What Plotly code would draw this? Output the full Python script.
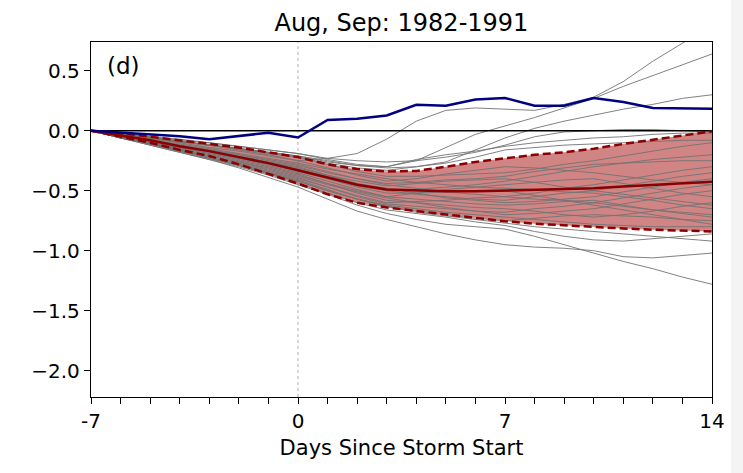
import plotly.graph_objects as go

days = list(range(-7, 15))
x_tick_vals = [-7, 0, 7, 14]
x_tick_text = ["-7", "0", "7", "14"]
y_tick_vals = [0.5, 0.0, -0.5, -1.0, -1.5, -2.0]

# observed (blue)
observed = [0.0, -0.015, -0.03, -0.045, -0.07, -0.045, -0.017, -0.056, 0.09, 0.10, 0.128,
            0.217, 0.208, 0.26, 0.273, 0.208, 0.208, 0.273, 0.24, 0.19, 0.19, 0.184]

# ensemble mean and +/- spread (dark red)
ens_mean = [0.0, -0.04, -0.08, -0.13, -0.17, -0.22, -0.27, -0.33, -0.39, -0.45, -0.49,
            -0.50, -0.505, -0.505, -0.50, -0.495, -0.49, -0.48, -0.465, -0.45, -0.435, -0.425]
ens_upper = [0.0, -0.02, -0.05, -0.08, -0.11, -0.14, -0.18, -0.22, -0.28, -0.32, -0.34,
             -0.335, -0.30, -0.26, -0.23, -0.20, -0.18, -0.15, -0.11, -0.075, -0.04, -0.005]
ens_lower = [0.0, -0.05, -0.10, -0.16, -0.21, -0.28, -0.36, -0.44, -0.53, -0.60, -0.64,
             -0.67, -0.70, -0.73, -0.755, -0.775, -0.79, -0.805, -0.815, -0.825, -0.835, -0.84]

# individual members (gray)
mem_a = [0, -0.03, -0.06, -0.09, -0.12, -0.16, -0.20, -0.25, -0.23, -0.19, -0.07, 0.08, 0.17, 0.19, 0.18, 0.17, 0.22, 0.28, 0.41, 0.58, 0.73, 0.88]
mem_b = [0, -0.03, -0.06, -0.09, -0.12, -0.15, -0.18, -0.21, -0.26, -0.29, -0.30, -0.25, -0.14, -0.03, 0.04, 0.11, 0.19, 0.27, 0.37, 0.46, 0.55, 0.64]
mem_c = [0, -0.03, -0.06, -0.09, -0.12, -0.15, -0.19, -0.22, -0.27, -0.31, -0.33, -0.30, -0.26, -0.16, -0.06, 0.02, 0.08, 0.13, 0.18, 0.22, 0.27, 0.30]
mem_d = [0, -0.02, -0.05, -0.08, -0.10, -0.13, -0.16, -0.19, -0.23, -0.25, -0.26, -0.25, -0.22, -0.18, -0.12, -0.05, -0.01, 0.00, 0.01, 0.01, 0.00, -0.01]
mem_e = [0, -0.02, -0.05, -0.07, -0.10, -0.13, -0.16, -0.19, -0.24, -0.28, -0.30, -0.24, -0.20, -0.17, -0.13, -0.10, -0.08, -0.06, -0.05, -0.03, -0.02, -0.02]
mem_f = [0, -0.03, -0.06, -0.09, -0.12, -0.15, -0.18, -0.21, -0.25, -0.29, -0.31, -0.30, -0.27, -0.22, -0.16, -0.14, -0.12, -0.11, -0.10, -0.09, -0.08, -0.08]
mem_l1 = [0, -0.06, -0.12, -0.18, -0.24, -0.31, -0.39, -0.47, -0.57, -0.67, -0.74, -0.80, -0.86, -0.91, -0.95, -0.97, -0.98, -1.00, -1.05, -1.06, -1.04, -1.02]
mem_l2 = [0, -0.06, -0.12, -0.18, -0.24, -0.30, -0.37, -0.45, -0.53, -0.62, -0.69, -0.74, -0.78, -0.80, -0.82, -0.88, -0.95, -1.02, -1.09, -1.15, -1.22, -1.28]
mem_l3 = [0, -0.06, -0.11, -0.17, -0.23, -0.29, -0.36, -0.44, -0.52, -0.60, -0.66, -0.69, -0.72, -0.76, -0.79, -0.84, -0.88, -0.91, -0.92, -0.90, -0.88, -0.86]
mem_l4 = [0, -0.05, -0.11, -0.16, -0.22, -0.28, -0.35, -0.42, -0.50, -0.57, -0.63, -0.68, -0.71, -0.74, -0.77, -0.80, -0.82, -0.84, -0.86, -0.88, -0.90, -0.92]
mem_01 = [0, -0.03, -0.06, -0.09, -0.12, -0.15, -0.18, -0.22, -0.28, -0.34, -0.38, -0.38, -0.37, -0.36, -0.35, -0.32, -0.28, -0.25, -0.21, -0.17, -0.13, -0.10]
mem_02 = [0, -0.03, -0.07, -0.10, -0.14, -0.17, -0.21, -0.25, -0.31, -0.37, -0.42, -0.40, -0.36, -0.33, -0.30, -0.31, -0.33, -0.35, -0.38, -0.41, -0.43, -0.45]
mem_03 = [0, -0.04, -0.08, -0.12, -0.16, -0.20, -0.24, -0.28, -0.34, -0.40, -0.45, -0.48, -0.51, -0.53, -0.55, -0.57, -0.58, -0.60, -0.63, -0.66, -0.68, -0.70]
mem_04 = [0, -0.04, -0.08, -0.12, -0.17, -0.21, -0.26, -0.30, -0.37, -0.44, -0.50, -0.49, -0.47, -0.45, -0.42, -0.38, -0.34, -0.30, -0.27, -0.24, -0.22, -0.20]
mem_05 = [0, -0.04, -0.09, -0.13, -0.18, -0.22, -0.27, -0.32, -0.38, -0.44, -0.48, -0.52, -0.56, -0.58, -0.60, -0.59, -0.57, -0.55, -0.51, -0.47, -0.43, -0.40]
mem_06 = [0, -0.05, -0.09, -0.14, -0.18, -0.23, -0.28, -0.33, -0.40, -0.47, -0.52, -0.52, -0.51, -0.50, -0.50, -0.54, -0.58, -0.62, -0.66, -0.70, -0.74, -0.78]
mem_07 = [0, -0.05, -0.10, -0.14, -0.19, -0.24, -0.29, -0.35, -0.42, -0.49, -0.55, -0.52, -0.49, -0.47, -0.45, -0.43, -0.41, -0.40, -0.44, -0.48, -0.52, -0.55]
mem_08 = [0, -0.05, -0.10, -0.15, -0.20, -0.25, -0.30, -0.36, -0.44, -0.52, -0.58, -0.60, -0.62, -0.64, -0.65, -0.67, -0.70, -0.72, -0.70, -0.67, -0.63, -0.60]
mem_09 = [0, -0.05, -0.10, -0.16, -0.21, -0.26, -0.32, -0.38, -0.45, -0.51, -0.56, -0.60, -0.64, -0.67, -0.70, -0.69, -0.67, -0.65, -0.61, -0.57, -0.53, -0.50]
mem_10 = [0, -0.05, -0.11, -0.16, -0.22, -0.28, -0.34, -0.40, -0.47, -0.54, -0.60, -0.59, -0.58, -0.56, -0.55, -0.52, -0.48, -0.45, -0.41, -0.37, -0.33, -0.30]
mem_11 = [0, -0.06, -0.11, -0.17, -0.23, -0.29, -0.36, -0.42, -0.50, -0.57, -0.62, -0.65, -0.68, -0.70, -0.72, -0.74, -0.76, -0.78, -0.79, -0.80, -0.80, -0.80]
mem_12 = [0, -0.04, -0.08, -0.11, -0.15, -0.19, -0.23, -0.27, -0.32, -0.36, -0.40, -0.43, -0.45, -0.47, -0.48, -0.49, -0.51, -0.52, -0.55, -0.58, -0.62, -0.65]
mem_13 = [0, -0.04, -0.08, -0.13, -0.17, -0.22, -0.26, -0.31, -0.37, -0.42, -0.46, -0.44, -0.42, -0.41, -0.40, -0.43, -0.47, -0.50, -0.46, -0.42, -0.38, -0.35]
mem_14 = [0, -0.05, -0.09, -0.14, -0.19, -0.23, -0.28, -0.34, -0.40, -0.46, -0.50, -0.53, -0.55, -0.57, -0.58, -0.55, -0.52, -0.50, -0.53, -0.56, -0.59, -0.62]
mem_15 = [0, -0.05, -0.10, -0.15, -0.21, -0.26, -0.31, -0.37, -0.44, -0.50, -0.55, -0.57, -0.59, -0.61, -0.62, -0.61, -0.59, -0.58, -0.62, -0.66, -0.69, -0.72]
mem_16 = [0, -0.04, -0.08, -0.12, -0.16, -0.20, -0.25, -0.29, -0.35, -0.40, -0.44, -0.43, -0.41, -0.40, -0.38, -0.34, -0.31, -0.28, -0.27, -0.26, -0.25, -0.25]
mem_17 = [0, -0.05, -0.11, -0.16, -0.22, -0.27, -0.33, -0.39, -0.47, -0.55, -0.61, -0.63, -0.65, -0.67, -0.68, -0.65, -0.63, -0.60, -0.56, -0.52, -0.48, -0.45]
mem_18 = [0, -0.06, -0.11, -0.17, -0.23, -0.29, -0.35, -0.41, -0.49, -0.57, -0.63, -0.67, -0.70, -0.73, -0.75, -0.73, -0.71, -0.70, -0.71, -0.72, -0.74, -0.75]

members = [mem_a, mem_b, mem_c, mem_d, mem_e, mem_f, mem_l1, mem_l2, mem_l3, mem_l4,
           mem_01, mem_02, mem_03, mem_04, mem_05, mem_06, mem_07, mem_08, mem_09,
           mem_10, mem_11, mem_12, mem_13, mem_14, mem_15, mem_16, mem_17, mem_18]

FONT = "DejaVu Sans"
DARKRED = "#8b0000"

fig = go.Figure()

# shaded spread
fig.add_trace(go.Scatter(x=days, y=ens_upper, mode="lines", line=dict(width=0),
                         showlegend=False, hoverinfo="skip"))
fig.add_trace(go.Scatter(x=days, y=ens_lower, mode="lines", line=dict(width=0),
                         fill="tonexty", fillcolor="rgba(165,20,20,0.52)",
                         showlegend=False, hoverinfo="skip"))

for m in members:
    fig.add_trace(go.Scatter(x=days, y=m, mode="lines",
                             line=dict(color="rgba(115,115,115,0.9)", width=1),
                             showlegend=False, hoverinfo="skip"))

# zero line
fig.add_trace(go.Scatter(x=[days[0], days[-1]], y=[0, 0], mode="lines",
                         line=dict(color="black", width=1.5), showlegend=False))

fig.add_trace(go.Scatter(x=days, y=ens_upper, mode="lines",
                         line=dict(color=DARKRED, width=2.5, dash="8px,4px"), showlegend=False))
fig.add_trace(go.Scatter(x=days, y=ens_lower, mode="lines",
                         line=dict(color=DARKRED, width=2.5, dash="8px,4px"), showlegend=False))
fig.add_trace(go.Scatter(x=days, y=ens_mean, mode="lines",
                         line=dict(color=DARKRED, width=2.5), showlegend=False))
fig.add_trace(go.Scatter(x=days, y=observed, mode="lines",
                         line=dict(color="#000080", width=2.5), showlegend=False))

# vertical dotted line at day 0
fig.add_shape(type="line", xref="x", yref="paper", x0=0, x1=0, y0=0, y1=1,
              line=dict(color="#b0b0b0", width=1, dash="dot"), layer="below")

# light gray strip at the right edge of the image
fig.add_shape(type="rect", xref="paper", yref="paper", x0=1.0306, x1=1.06, y0=-0.3, y1=1.2,
              fillcolor="#f4f4f4", line=dict(width=0), layer="below")

fig.add_annotation(text="(d)", xref="paper", yref="paper", x=0.022, y=0.932,
                   xanchor="left", yanchor="middle", showarrow=False,
                   font=dict(family=FONT, size=23, color="black"))

fig.update_layout(
    width=743, height=473,
    margin=dict(l=91, r=31, t=42, b=76),
    paper_bgcolor="white", plot_bgcolor="white",
    font=dict(family=FONT, size=20, color="black"),
    title=dict(text="Aug, Sep: 1982-1991", x=0.5403, xanchor="center",
               y=0.952, yanchor="middle", yref="container",
               font=dict(family=FONT, size=24, color="black")),
)

fig.update_xaxes(
    range=[-7, 14], tickmode="array",
    tickvals=days,
    ticktext=[(x_tick_text[x_tick_vals.index(d)] if d in x_tick_vals else "") for d in days],
    ticks="outside", ticklen=6, tickwidth=1.2, tickcolor="black",
    showline=True, linecolor="black", linewidth=1.4, mirror=True,
    showgrid=False, zeroline=False,
    title=dict(text="Days Since Storm Start", standoff=8,
               font=dict(family=FONT, size=21)),
    tickfont=dict(family=FONT, size=20),
)
fig.update_yaxes(
    range=[-2.22, 0.74], tickmode="array", tickvals=y_tick_vals,
    ticktext=[("\u2212" if v < 0 else "") + f"{abs(v):.1f}" for v in y_tick_vals],
    ticks="outside", ticklen=6, tickwidth=1.2, tickcolor="black",
    showline=True, linecolor="black", linewidth=1.4, mirror=True,
    showgrid=False, zeroline=False,
    tickfont=dict(family=FONT, size=20),
)

fig.write_html("out.html")
